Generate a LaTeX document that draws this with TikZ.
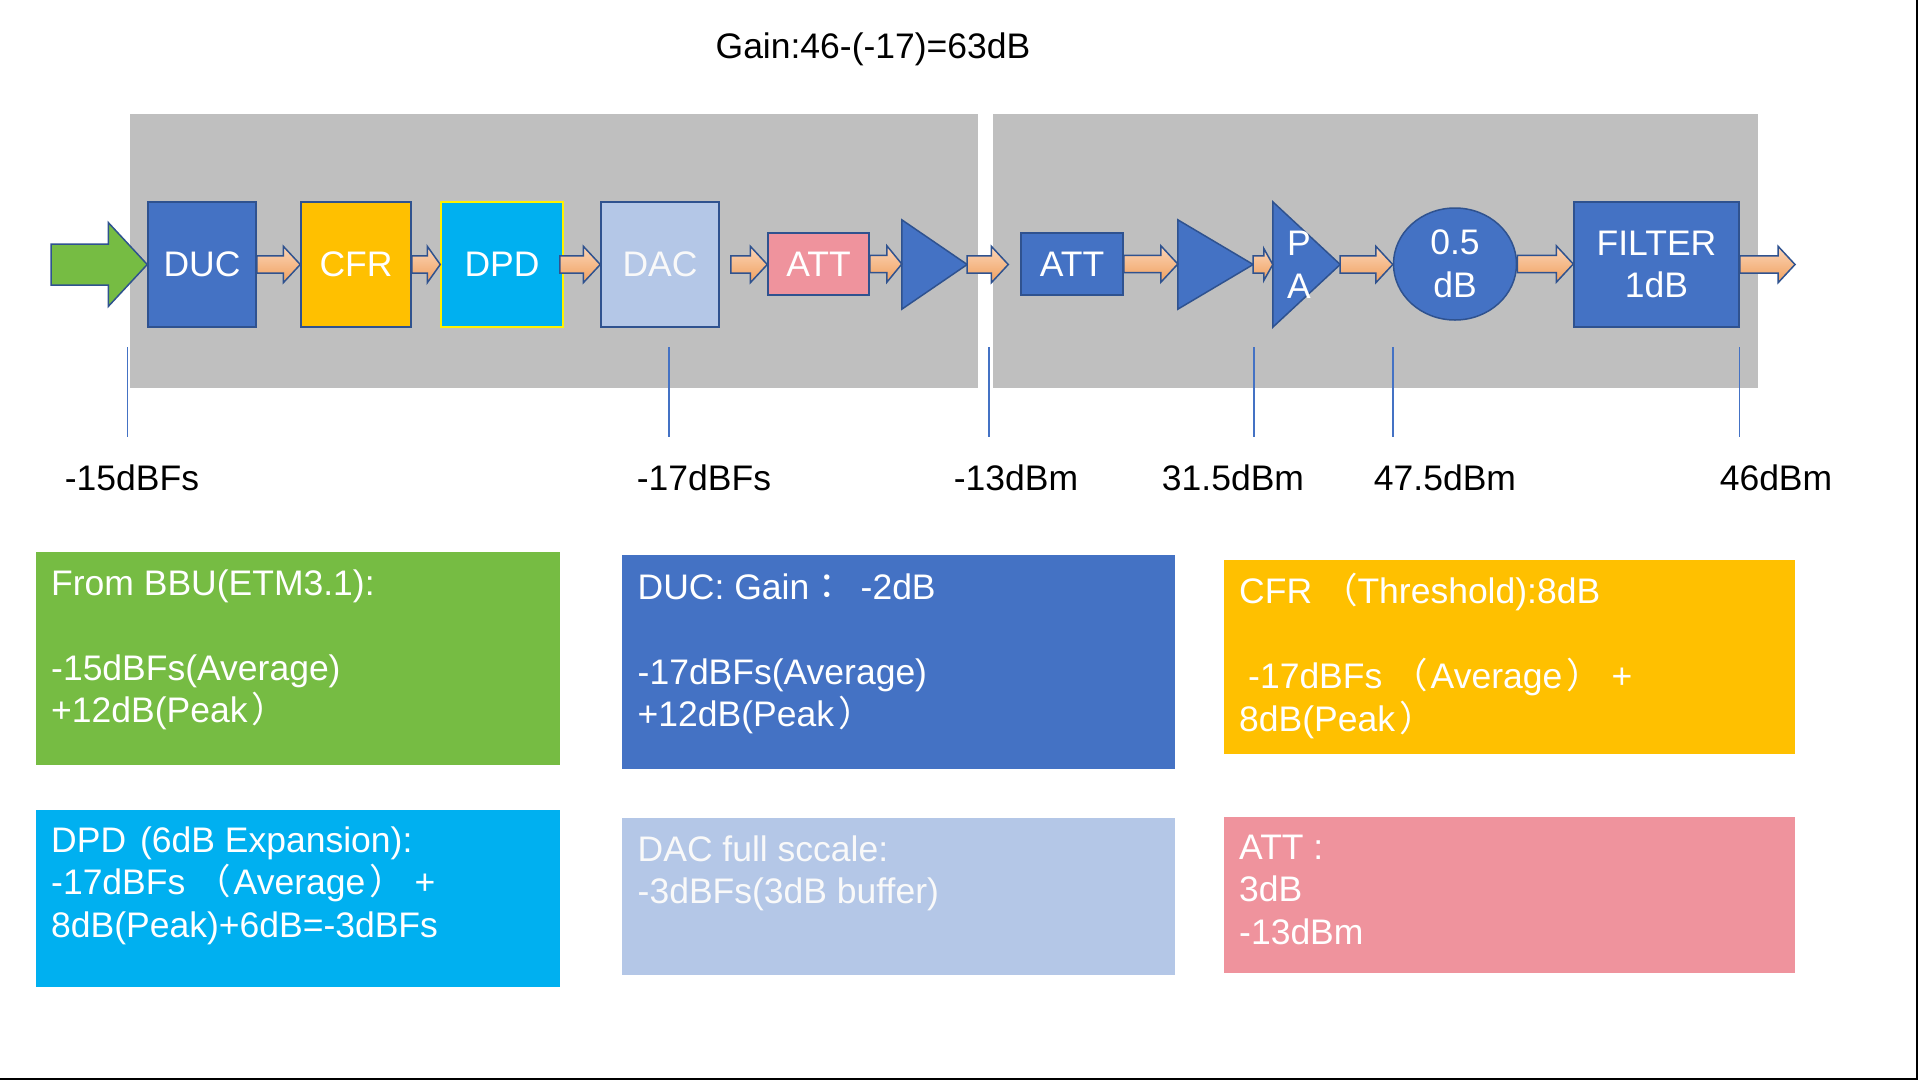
\documentclass[tikz,border=0pt]{standalone}
\usepackage{fontspec}
\setmainfont{Liberation Sans}
\newfontfamily\cjk{Noto Sans CJK TC}
\usetikzlibrary{calc,shapes.geometric}
\definecolor{grayband}{HTML}{BFBFBF}
\definecolor{blockblue}{HTML}{4472C4}
\definecolor{edgeblue}{HTML}{2F528F}
\definecolor{markblue}{HTML}{4472C4}
\definecolor{goldb}{HTML}{FFC000}
\definecolor{cyanb}{HTML}{00B0F0}
\definecolor{paleb}{HTML}{B4C7E7}
\definecolor{pinkb}{HTML}{EF939D}
\definecolor{greenb}{HTML}{76BC43}
\definecolor{arrtop}{HTML}{FBD5B8}
\definecolor{arrbot}{HTML}{F0A05E}
\newcommand\bigfont{\fontsize{35.5}{42.5}\selectfont}
\newcommand\lpar{{\cjk （}\hspace{3pt}}
\newcommand\rpar{\hspace{4pt}{\cjk ）}}
% #1 style, #2 head length, #3 head half height, #4 body half height, #5 start, #6 end
\newcommand\blockarrow[6]{%
  \draw[#1] let \p1=#5, \p2=#6 in
   (\x1,{\y1+#4}) -- ({\x2-#2},{\y1+#4}) -- ({\x2-#2},{\y1+#3}) -- (\x2,\y1)
   -- ({\x2-#2},{\y1-#3}) -- ({\x2-#2},{\y1-#4}) -- (\x1,{\y1-#4}) -- cycle;}
\begin{document}
\begin{tikzpicture}[x=1pt,y=-1pt,
  blockbox/.style={draw=edgeblue, line width=1.5pt, inner sep=0pt, text=white, font=\bigfont, align=center},
  ghost/.style={inner sep=0pt, draw=none},
  infobox/.style={inner sep=0pt, draw=none, anchor=north west},
  infotext/.style={anchor=base west, inner sep=0pt, text=white, font=\bigfont, align=left},
  valuelabel/.style={anchor=base, inner sep=0pt, font=\bigfont},
  marker/.style={draw=markblue, line width=1.3pt},
  flowarrow/.style={draw=edgeblue, line width=1.5pt, top color=arrtop, bottom color=arrbot},
  bigarrow/.style={draw=edgeblue, line width=1.5pt, fill=greenb},
  tri/.style={draw=edgeblue, line width=1.5pt, fill=blockblue}]
\useasboundingbox (0,0) rectangle (1920,1080);
\fill[white] (0,0) rectangle (1920,1080);
\draw[black, line width=2pt] (1916.5,0) -- (1916.5,1080);
\draw[black, line width=2pt] (0,1079) -- (1917.5,1079);

% title
\node[valuelabel] (title) at (873,58) {Gain:46-(-17)=63dB};

% gray bands
\fill[grayband] (130,114) rectangle (978,388);
\fill[grayband] (993,114) rectangle (1757.5,388);

% blocks
\node[blockbox, fill=blockblue, minimum width=108, minimum height=125] (duc) at (202,264.5) {DUC};
\node[blockbox, fill=goldb, minimum width=110, minimum height=125] (cfr) at (356,264.5) {CFR};
\node[blockbox, fill=cyanb, draw=yellow, minimum width=122, minimum height=125] (dpd) at (502,264.5) {DPD};
\node[blockbox, fill=paleb, text=white!95!gray, minimum width=118, minimum height=125] (dac) at (660,264.5) {DAC};
\node[blockbox, fill=pinkb, minimum width=101, minimum height=62] (att1) at (818.5,264) {ATT};
\node[ghost, minimum width=65, minimum height=89] (tri1) at (934.5,264.5) {};
\draw[tri] (tri1.north west) -- (tri1.east) -- (tri1.south west) -- cycle;
\node[blockbox, fill=blockblue, minimum width=102, minimum height=62] (att2) at (1072,264) {ATT};
\node[ghost, minimum width=75, minimum height=89] (tri2) at (1215.5,264.5) {};
\draw[tri] (tri2.north west) -- (tri2.east) -- (tri2.south west) -- cycle;
\node[ghost, minimum width=67, minimum height=125] (pa) at (1306.5,264.5) {};
\draw[tri] (pa.north west) -- (pa.east) -- (pa.south west) -- cycle;
\node[blockbox, draw=none, fill=none] (patext) at (1299,265) {P\\A};
\node[blockbox, ellipse, fill=blockblue, minimum width=123, minimum height=112] (loss) at (1455,264) {0.5\\dB};
\node[blockbox, fill=blockblue, minimum width=165, minimum height=125] (filter) at (1656.5,264.5) {FILTER\\1dB};

\coordinate (in) at (51,264.5);
\coordinate (out) at (1795,264.5);

% connectors
\blockarrow{bigarrow}{39pt}{42pt}{20.5pt}{(in)}{(duc.west)}
\blockarrow{flowarrow}{17pt}{18.3pt}{8.7pt}{(duc.east)}{(cfr.west)}
\blockarrow{flowarrow}{13pt}{18.3pt}{8.7pt}{(cfr.east)}{(dpd.west)}
\blockarrow{flowarrow}{17pt}{18.3pt}{8.7pt}{($(dpd.east)+(-4,0)$)}{(dac.west)}
\blockarrow{flowarrow}{17pt}{18.3pt}{8.7pt}{($(dac.east)+(11,0)$)}{(att1.west)}
\blockarrow{flowarrow}{15pt}{18.3pt}{8.7pt}{(att1.east)}{(tri1.west)}
\blockarrow{flowarrow}{17pt}{18.3pt}{8.7pt}{(tri1.east)}{($(att2.west)+(-12,0)$)}
\blockarrow{flowarrow}{17pt}{18.3pt}{8.7pt}{(att2.east)}{(tri2.west)}
\blockarrow{flowarrow}{9pt}{16pt}{8.7pt}{(tri2.east)}{(pa.west)}
\blockarrow{flowarrow}{17pt}{18.3pt}{8.7pt}{(pa.east)}{(loss.west)}
\blockarrow{flowarrow}{17pt}{18.3pt}{8.7pt}{(loss.east)}{(filter.west)}
\blockarrow{flowarrow}{17pt}{18.3pt}{8.7pt}{(filter.east)}{(out)}

% markers
\foreach \mx in {127.5,669,989,1254,1393,1739.5}
  \draw[marker] (\mx,347) -- (\mx,437);

% level labels
\node[valuelabel] (l1) at (132,490) {-15dBFs};
\node[valuelabel] (l2) at (704,490) {-17dBFs};
\node[valuelabel] (l3) at (1016,490) {-13dBm};
\node[valuelabel] (l4) at (1233,490) {31.5dBm};
\node[valuelabel] (l5) at (1445,490) {47.5dBm};
\node[valuelabel] (l6) at (1776,490) {46dBm};

% info boxes (text anchored at the baseline of its last line)
\node[infobox, fill=greenb, minimum width=524, minimum height=213] (bbu) at (36,552) {};
\node[infotext] (bbut) at (51,722.5) {From BBU(ETM3.1):\\[42.5pt]-15dBFs(Average)\\+12dB(Peak\rpar};

\node[infobox, fill=blockblue, minimum width=553, minimum height=214] (ducinfo) at (622,555) {};
\node[infotext] (ducinfot) at (637.5,726.5) {DUC: Gain{\cjk ：}\hspace{6pt} -2dB\\[42.5pt]-17dBFs(Average)\\+12dB(Peak\rpar};

\node[infobox, fill=goldb, minimum width=571, minimum height=194] (cfrinfo) at (1224,560) {};
\node[infotext] (cfrinfot) at (1239,731) {CFR {\cjk （}Threshold):8dB\\[42.5pt]\hspace*{9pt}-17dBFs \lpar Average\rpar{} +\\8dB(Peak\rpar};

\node[infobox, fill=cyanb, minimum width=524, minimum height=177] (dpdinfo) at (36,810) {};
\node[infotext] (dpdinfot) at (51,937) {DPD\hspace{14pt}(6dB Expansion):\\-17dBFs \lpar Average\rpar{} +\\8dB(Peak)+6dB=-3dBFs};

\node[infobox, fill=paleb, minimum width=553, minimum height=157] (dacinfo) at (622,818) {};
\node[infotext, text=white!95!gray] (dacinfot) at (637.5,903.5) {DAC full sccale:\\-3dBFs(3dB buffer)};

\node[infobox, fill=pinkb, minimum width=571, minimum height=156] (attinfo) at (1224,817) {};
\node[infotext] (attinfot) at (1239,944) {ATT :\\3dB\\-13dBm};
\end{tikzpicture}
\end{document}
